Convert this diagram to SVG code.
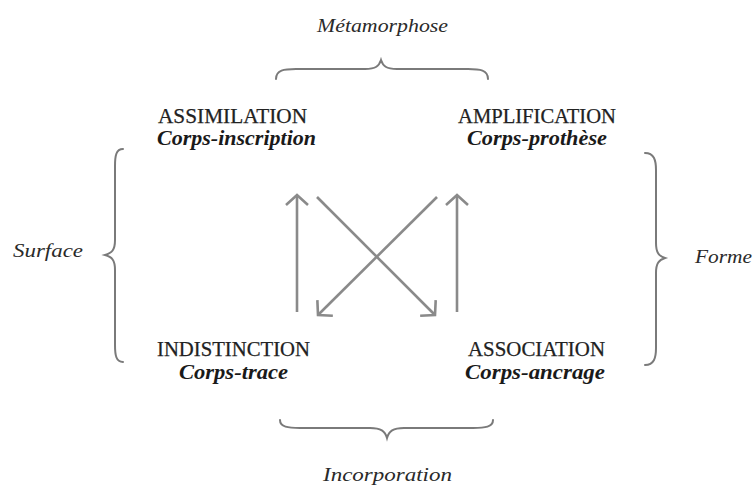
<svg xmlns="http://www.w3.org/2000/svg" width="753" height="488" viewBox="0 0 753 488">
  <style>
    .cap { font-family: "Liberation Serif", "Times New Roman", serif; font-size: 21.5px; fill: #222; stroke: #222; stroke-width: 0.25; text-anchor: middle; }
    .sub { font-family: "Liberation Serif", "Times New Roman", serif; font-size: 20.5px; font-style: italic; font-weight: bold; fill: #1a1a1a; text-anchor: middle; }
    .lbl { font-family: "Liberation Serif", "Times New Roman", serif; font-size: 19px; font-style: italic; fill: #2a2a2a; text-anchor: middle; }
    .brace { fill: none; stroke: #7a7a7a; stroke-width: 2; stroke-linecap: round; }
    .arrow { fill: none; stroke: #8a8a8a; stroke-width: 2.6; marker-end: url(#head); }
  </style>
  <defs>
    <marker id="head" markerUnits="userSpaceOnUse" markerWidth="30" markerHeight="30" refX="0" refY="0" viewBox="-15 -15 30 30" orient="auto" overflow="visible">
      <path d="M-10,-11 L0,0 L-10,11" fill="none" stroke="#8a8a8a" stroke-width="2.6" stroke-linejoin="miter"/>
    </marker>
  </defs>
  <rect width="753" height="488" fill="#fff"/>

  <!-- braces and their labels -->
  <g id="metamorphose">
    <text class="lbl" x="382.5" y="32" textLength="131" lengthAdjust="spacingAndGlyphs">Métamorphose</text>
    <path class="brace" d="M276,79 C276,70 284,69 296,69 L365,69 C376,69 379,66 381,60 C383,66 386,69 397,69 L468,69 C480,69 488,70 488,79"/>
  </g>
  <g id="incorporation">
    <path class="brace" d="M280,420 C280,427 288,428 300,428 L370,428 C381,428 385,431 387,438 C389,431 393,428 404,428 L473,428 C485,428 493,427 493,420"/>
    <text class="lbl" x="387.5" y="481" textLength="129" lengthAdjust="spacingAndGlyphs">Incorporation</text>
  </g>
  <g id="surface">
    <text class="lbl" x="48" y="257" textLength="70" lengthAdjust="spacingAndGlyphs">Surface</text>
    <path class="brace" d="M123,149 C116,149 115,156 115,166 L115,240 C115,250 112,253 105,255 C112,257 115,260 115,270 L115,345 C115,355 116,362 123,362"/>
  </g>
  <g id="forme">
    <path class="brace" d="M645,153 C654,153 656,160 656,170 L656,243 C656,253 659,256 665,258 C659,260 656,263 656,273 L656,348 C656,358 654,365 645,365"/>
    <text class="lbl" x="723.5" y="263" textLength="57" lengthAdjust="spacingAndGlyphs">Forme</text>
  </g>

  <!-- the four quadrants -->
  <g id="assimilation">
    <text class="cap" x="232.5" y="123" textLength="149" lengthAdjust="spacingAndGlyphs">ASSIMILATION</text>
    <text class="sub" x="236.5" y="145" textLength="159" lengthAdjust="spacingAndGlyphs">Corps-inscription</text>
  </g>
  <g id="amplification">
    <text class="cap" x="537" y="123" textLength="158" lengthAdjust="spacingAndGlyphs">AMPLIFICATION</text>
    <text class="sub" x="537" y="145" textLength="140" lengthAdjust="spacingAndGlyphs">Corps-prothèse</text>
  </g>
  <g id="indistinction">
    <text class="cap" x="233.5" y="356" textLength="153" lengthAdjust="spacingAndGlyphs">INDISTINCTION</text>
    <text class="sub" x="233.5" y="379" textLength="109" lengthAdjust="spacingAndGlyphs">Corps-trace</text>
  </g>
  <g id="association">
    <text class="cap" x="536.5" y="356" textLength="137" lengthAdjust="spacingAndGlyphs">ASSOCIATION</text>
    <text class="sub" x="535" y="379" textLength="140" lengthAdjust="spacingAndGlyphs">Corps-ancrage</text>
  </g>

  <!-- connectors -->
  <g id="connectors">
    <path class="arrow" d="M297,312 L297,195"/>
    <path class="arrow" d="M457,312 L457,195"/>
    <path class="arrow" d="M317,197 L435,315"/>
    <path class="arrow" d="M437,197 L318,315"/>
  </g>
</svg>
